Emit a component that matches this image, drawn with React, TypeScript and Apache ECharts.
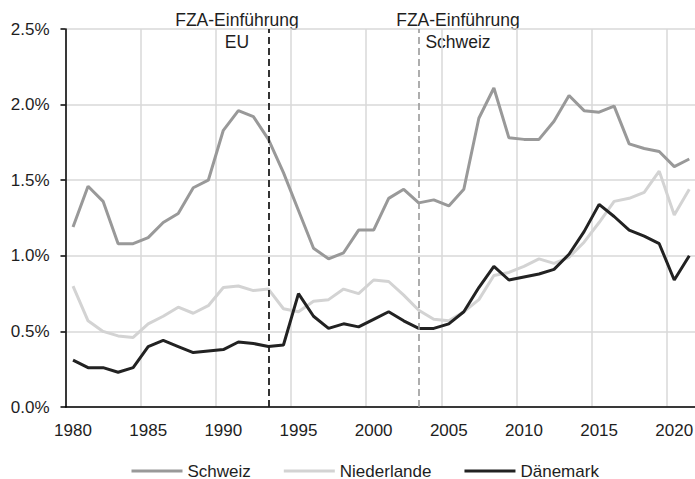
import React, { useEffect, useRef } from "react";
import * as echarts from "echarts";

const years = [
  "1980", "1981", "1982", "1983", "1984", "1985", "1986", "1987", "1988", "1989",
  "1990", "1991", "1992", "1993", "1994", "1995", "1996", "1997", "1998", "1999",
  "2000", "2001", "2002", "2003", "2004", "2005", "2006", "2007", "2008", "2009",
  "2010", "2011", "2012", "2013", "2014", "2015", "2016", "2017", "2018", "2019",
  "2020", "2021",
];

const schweiz = [
  1.19, 1.46, 1.36, 1.08, 1.08, 1.12, 1.22, 1.28, 1.45, 1.5, 1.83, 1.96, 1.92, 1.77,
  1.55, 1.3, 1.05, 0.98, 1.02, 1.17, 1.17, 1.38, 1.44, 1.35, 1.37, 1.33, 1.44, 1.91,
  2.11, 1.78, 1.77, 1.77, 1.89, 2.06, 1.96, 1.95, 1.99, 1.74, 1.71, 1.69, 1.59, 1.64,
];

const niederlande = [
  0.8, 0.57, 0.5, 0.47, 0.46, 0.55, 0.6, 0.66, 0.62, 0.67, 0.79, 0.8, 0.77, 0.78,
  0.65, 0.63, 0.7, 0.71, 0.78, 0.75, 0.84, 0.83, 0.74, 0.64, 0.58, 0.57, 0.63, 0.71,
  0.87, 0.89, 0.93, 0.98, 0.95, 0.99, 1.09, 1.22, 1.36, 1.38, 1.42, 1.56, 1.27, 1.44,
];

const daenemark = [
  0.31, 0.26, 0.26, 0.23, 0.26, 0.4, 0.44, 0.4, 0.36, 0.37, 0.38, 0.43, 0.42, 0.4,
  0.41, 0.75, 0.6, 0.52, 0.55, 0.53, 0.58, 0.63, 0.57, 0.52, 0.52, 0.55, 0.63, 0.79,
  0.93, 0.84, 0.86, 0.88, 0.91, 1.01, 1.16, 1.34, 1.26, 1.17, 1.13, 1.08, 0.84, 1.0,
];

const seriesNames = ["Schweiz", "Niederlande", "Dänemark"];
const markerYears = ["1993", "2003"];
const markerLabels = ["FZA-Einführung\nEU", "FZA-Einführung\nSchweiz"];

const FONT = "'Liberation Sans', Arial, sans-serif";
const TEXT = "#1e1e1e";

export default function App() {
  const ref = useRef<HTMLDivElement>(null);

  useEffect(() => {
    if (!ref.current) return;
    const chart = echarts.init(ref.current, undefined, { renderer: "svg" });

    const annot = (label: string, x: number) => {
      const lines = label.split("\n");
      return lines.map((t, i) => ({
        type: "text",
        x,
        y: 20 + i * 21.8,
        style: {
          text: t,
          font: `17.5px ${FONT}`,
          fill: TEXT,
          textAlign: "center",
          textVerticalAlign: "middle",
        },
      }));
    };

    chart.setOption({
      animation: false,
      backgroundColor: "#ffffff",
      grid: { left: 65.5, right: 3.2, top: 29, bottom: 72, containLabel: false },
      xAxis: {
        type: "category",
        data: years,
        boundaryGap: true,
        axisLine: { show: true, lineStyle: { color: "#000", width: 1.5 } },
        axisTick: { show: false, interval: 4 },
        axisLabel: {
          interval: 4,
          margin: 15,
          color: TEXT,
          fontFamily: FONT,
          fontSize: 17,
        },
        splitLine: { show: true, interval: 4, lineStyle: { color: "#d9d9d9", width: 1.5 } },
      },
      yAxis: {
        type: "value",
        min: 0,
        max: 2.5,
        interval: 0.5,
        axisLine: { show: true, lineStyle: { color: "#000", width: 1.5 } },
        axisTick: { show: true, length: 5, lineStyle: { color: "#000", width: 1.5 } },
        axisLabel: {
          margin: 16,
          color: TEXT,
          fontFamily: FONT,
          fontSize: 17,
          formatter: (v: number) => `${v.toFixed(1)}%`,
        },
        splitLine: { show: true, lineStyle: { color: "#d9d9d9", width: 1.5 } },
      },
      legend: {
        data: seriesNames,
        left: 131.5,
        top: 462,
        padding: 0,
        icon: "rect",
        itemWidth: 51,
        itemHeight: 3,
        itemGap: 33,
        textStyle: { color: TEXT, fontFamily: FONT, fontSize: 17, lineHeight: 18 },
      },
      series: [
        {
          name: seriesNames[0],
          type: "line",
          data: schweiz,
          symbol: "none",
          lineStyle: { color: "#999999", width: 3 },
          itemStyle: { color: "#999999" },
          z: 3,
        },
        {
          name: seriesNames[1],
          type: "line",
          data: niederlande,
          symbol: "none",
          lineStyle: { color: "#d3d3d3", width: 3 },
          itemStyle: { color: "#d3d3d3" },
          z: 2,
          markLine: {
            silent: true,
            symbol: "none",
            label: { show: false },
            data: [
              { xAxis: markerYears[0], lineStyle: { color: "#1e1e1e", width: 1.8, type: [7, 4] } },
              { xAxis: markerYears[1], lineStyle: { color: "#9a9a9a", width: 1.6, type: [7, 4] } },
            ],
          },
        },
        {
          name: seriesNames[2],
          type: "line",
          data: daenemark,
          symbol: "none",
          lineStyle: { color: "#222222", width: 3 },
          itemStyle: { color: "#222222" },
          z: 4,
        },
      ],
      graphic: [...annot(markerLabels[0], 237), ...annot(markerLabels[1], 458)],
    });

    return () => chart.dispose();
  }, []);

  return (
    <div
      style={{
        position: "fixed",
        left: 0,
        top: 0,
        width: 695,
        height: 479,
        overflow: "hidden",
        background: "#fff",
      }}
    >
      <div ref={ref} style={{ width: 700, height: 479 }} />
    </div>
  );
}
